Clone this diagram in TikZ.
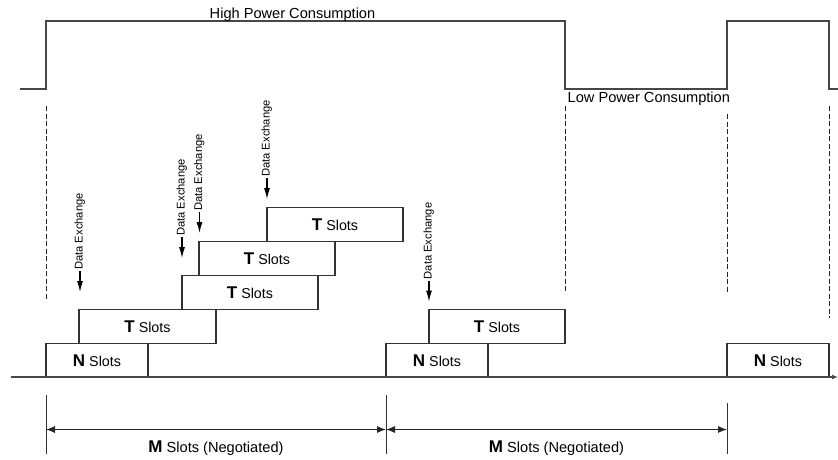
\documentclass[tikz,border=0pt]{standalone}
\usepackage{fontspec}
\setmainfont{Liberation Sans}
\usetikzlibrary{arrows.meta}
\newcommand\bigletter[1]{{\fontsize{17}{17}\selectfont\bfseries #1}}
\begin{document}
\begin{tikzpicture}[x=1pt,y=-1pt,
  line/.style={draw=black!72, line width=1.2pt},
  wave/.style={line, line join=miter},
  guide/.style={draw=black!85, line width=1pt, dash pattern=on 5pt off 2.5pt},
  slotbox/.style={draw=black!80, line width=1.1pt, fill=white, inner sep=0pt, minimum height=34pt, font=\fontsize{14.3}{16}\selectfont},
  lbl/.style={font=\fontsize{14.6}{17}\selectfont, inner sep=0pt},
  dex/.style={rotate=90, anchor=mid west, inner sep=1pt, font=\fontsize{11.2}{13}\selectfont},
  dexarrow/.style={draw=black, line width=1.1pt, -{Latex[length=11pt,width=6pt]}},
  dim/.style={draw=black!85, line width=1pt, {Latex[length=9pt,width=7pt]}-{Latex[length=9pt,width=7pt]}},
  tick/.style={draw=black!80, line width=1pt},
]
\fill[white] (0,0) rectangle (838,460);
\useasboundingbox (0,0) rectangle (838,460);

% power waveform
\draw[wave] (20,89) -- (46,89) -- (46,21) -- (565,21) -- (565,89) -- (727,89) -- (727,21) -- (829,21) -- (829,89) -- (838,89);
\node[lbl, anchor=base] (hp) at (292.5,18.3) {High Power Consumption};
\node[lbl, anchor=base west] (lp) at (567.5,102.3) {Low Power Consumption};

% dashed guides
\draw[guide] (46,106) -- (46,301);
\draw[guide] (565,106) -- (565,292);
\draw[guide] (727,114) -- (727,292);
\draw[guide] (829,106) -- (829,318);

% slot boxes
\node[slotbox, minimum width=102pt, minimum height=33.5pt] (n1) at (97,360.25) {\bigletter{N} Slots};
\node[slotbox, minimum width=137pt] (t1) at (147.5,326.5) {\bigletter{T} Slots};
\node[slotbox, minimum width=136pt] (t2) at (250,292.5) {\bigletter{T} Slots};
\node[slotbox, minimum width=136pt] (t3) at (267,258.5) {\bigletter{T} Slots};
\node[slotbox, minimum width=136pt] (t4) at (335,224.5) {\bigletter{T} Slots};
\node[slotbox, minimum width=102pt, minimum height=33.5pt] (n2) at (437,360.25) {\bigletter{N} Slots};
\node[slotbox, minimum width=136pt] (t5) at (497,326.5) {\bigletter{T} Slots};
\node[slotbox, minimum width=102pt, minimum height=33.5pt] (n3) at (778,360.25) {\bigletter{N} Slots};

% time axis
\coordinate (ax0) at (11,377);
\coordinate (ax1) at (838,377);
\draw[line, -{Latex[length=6pt,width=5pt]}] (ax0) -- (ax1);

% data exchange arrows
\foreach \i/\x/\y in {1/80/292, 2/182/258, 3/199.5/233, 4/267/199, 5/429/301.5}{
  \coordinate (d\i b) at (\x,\y);
  \coordinate (d\i a) at (\x,\y-21);
  \draw[dexarrow] (d\i a) -- (d\i b);
  \node[dex] (d\i t) at (d\i a) {Data Exchange};
}

% M slots dimensions
\coordinate (m0) at (46,429.5);
\coordinate (m1) at (386,429.5);
\coordinate (m2) at (727,429.5);
\draw[tick] (46,395) -- (46,454);
\draw[tick] (386,395) -- (386,454);
\draw[tick] (727,403) -- (727,454);
\draw[dim] (m0) -- (m1);
\draw[dim] (m1) -- (m2);
\node[lbl, anchor=base] (ml1) at (216,452.5) {\bigletter{M} Slots (Negotiated)};
\node[lbl, anchor=base] (ml2) at (556.5,452.5) {\bigletter{M} Slots (Negotiated)};
\end{tikzpicture}
\end{document}
